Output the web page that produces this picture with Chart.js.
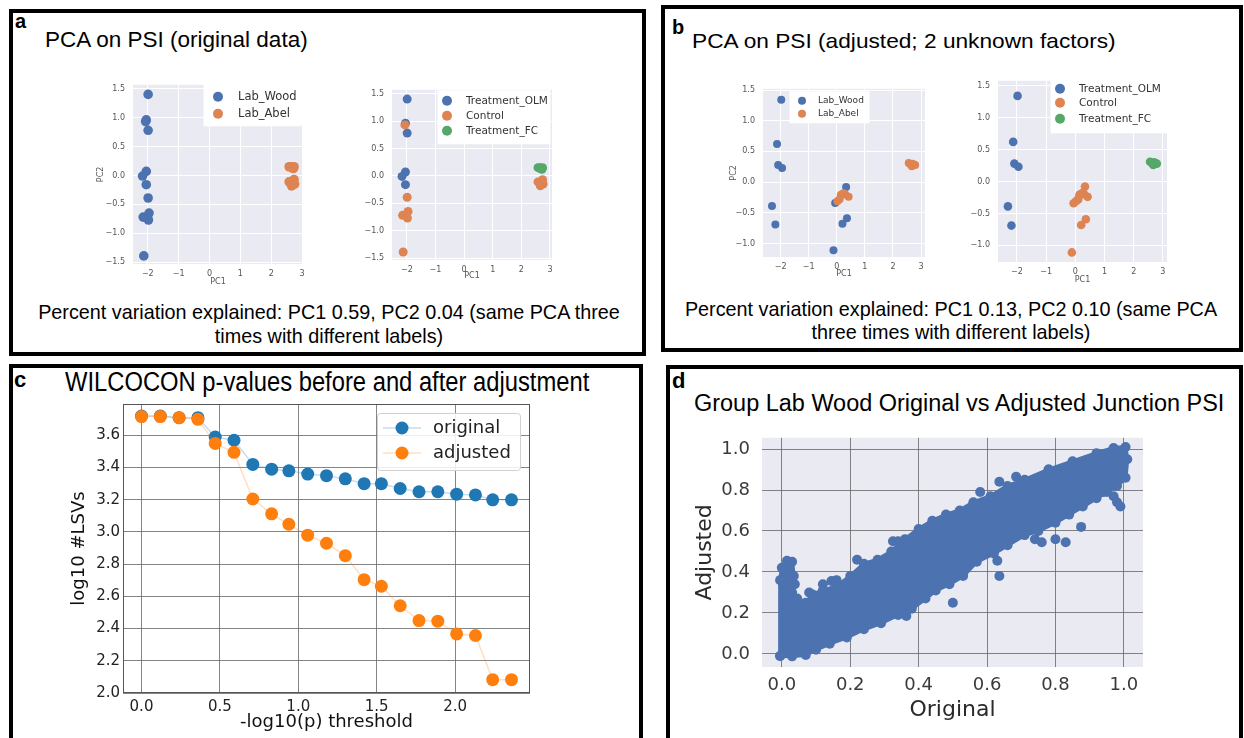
<!DOCTYPE html>
<html>
<head>
<meta charset="utf-8">
<script src="https://cdn.jsdelivr.net/npm/chart.js@4.4.1/dist/chart.umd.min.js"></script>
<style>
body { margin: 0; width: 1244px; height: 738px; background: #fff; position: relative; overflow: hidden;
       font-family: "Liberation Sans", Arial, sans-serif; }
.box { position: absolute; border: 4px solid #000; box-sizing: border-box; }
.t { position: absolute; white-space: nowrap; color: #000; line-height: 1; transform-origin: left top; }
.lbl { font-weight: bold; }
.ctr { transform: translateX(-50%); }
canvas { position: absolute; }
</style>
</head>
<body>
<div class="box" style="left:9px;top:9px;width:637px;height:347px"></div>
<div class="box" style="left:661px;top:5px;width:582px;height:347px"></div>
<div class="box" style="left:9px;top:364px;width:634px;height:420px"></div>
<div class="box" style="left:666px;top:365px;width:577px;height:420px"></div>

<div class="t lbl" style="left:15px;top:11px;font-size:20px">a</div>
<div class="t" style="left:45px;top:29px;font-size:22.5px">PCA on PSI (original data)</div>
<div class="t ctr" style="left:329px;top:303px;font-size:19.8px">Percent variation explained: PC1 0.59, PC2 0.04 (same PCA three</div>
<div class="t ctr" style="left:329px;top:327px;font-size:19.8px">times with different labels)</div>

<div class="t lbl" style="left:672px;top:17px;font-size:20px">b</div>
<div class="t" style="left:692px;top:30px;font-size:21px;transform:scaleX(1.08)">PCA on PSI (adjusted; 2 unknown factors)</div>
<div class="t ctr" style="left:951px;top:300px;font-size:19.8px">Percent variation explained: PC1 0.13, PC2 0.10 (same PCA</div>
<div class="t ctr" style="left:951px;top:323px;font-size:19.8px">three times with different labels)</div>

<div class="t lbl" style="left:14px;top:369px;font-size:22px">c</div>
<div class="t" style="left:65px;top:369px;font-size:27px;transform:scaleX(0.88)">WILCOCON p-values before and after adjustment</div>

<div class="t lbl" style="left:672px;top:370px;font-size:22px">d</div>
<div class="t" style="left:694px;top:392px;font-size:23px;transform:scaleX(1.02)">Group Lab Wood Original vs Adjusted Junction PSI</div>

<canvas id="pcaA1" width="218" height="218" style="left:92px;top:72px"></canvas>
<canvas id="pcaA2" width="200" height="207" style="left:360px;top:77px"></canvas>
<canvas id="pcaB1" width="207" height="206" style="left:725px;top:76px"></canvas>
<canvas id="pcaB2" width="210" height="220" style="left:965px;top:68px"></canvas>
<canvas id="wilcox" width="480" height="346" style="left:60px;top:392px"></canvas>
<canvas id="psi" width="465" height="323" style="left:690px;top:415px"></canvas>

<script>
// ---- PCA tick labels ----
const pcaXTicks = [-2, -1, 0, 1, 2, 3];
const pcaYTicksA = [-1.5, -1.0, -0.5, 0.0, 0.5, 1.0, 1.5];
const pcaYTicksB = [-1.0, -0.5, 0.0, 0.5, 1.0, 1.5];

// ---- PCA on original PSI (samples split by lab / treatment) ----
const origWoodOlmX = [-1.99, -2.05, -1.99, -2.05, -2.17, -2.05];
const origWoodOlmY = [1.40, 0.96, 0.78, 0.07, -0.01, -0.16];
const origWoodCtrlX = [-2.07, -1.99, -1.96, -2.15, -1.98, -2.13];
const origWoodCtrlY = [0.93, -0.39, -0.65, -0.72, -0.77, -1.39];
const origAbelCtrlX = [2.58, 2.66, 2.74, 2.70, 2.76, 2.66];
const origAbelCtrlY = [-0.11, -0.13, -0.07, -0.10, -0.15, -0.18];
const origAbelFcX = [2.58, 2.64, 2.70, 2.74, 2.72, 2.68];
const origAbelFcY = [0.15, 0.15, 0.14, 0.15, 0.12, 0.13];

// ---- PCA on adjusted PSI ----
const adjWoodOlmX = [-1.98, -2.13, -2.09, -1.95, -2.31, -2.19];
const adjWoodOlmY = [1.34, 0.62, 0.28, 0.23, -0.39, -0.69];
const adjWoodCtrlX = [-0.06, 0.33, 0.36, 0.20, -0.12, 0.18];
const adjWoodCtrlY = [-0.34, -0.08, -0.59, -0.68, -1.11, -0.20];
const adjAbelCtrlX = [0.02, 0.10, 0.14, 0.24, 0.30, 0.42];
const adjAbelCtrlY = [-0.31, -0.28, -0.21, -0.18, -0.20, -0.24];
const adjAbelFcX = [2.56, 2.62, 2.67, 2.73, 2.79, 2.70];
const adjAbelFcY = [0.31, 0.29, 0.26, 0.28, 0.28, 0.30];

// ---- WILCOXON thresholds vs log10 #LSVs ----
const thresholds = [0.00, 0.12, 0.24, 0.36, 0.47, 0.59, 0.71, 0.83, 0.94, 1.06, 1.18,
                    1.30, 1.42, 1.53, 1.65, 1.77, 1.89, 2.01, 2.13, 2.24, 2.36];
const lsvOriginal = [3.72, 3.72, 3.71, 3.71, 3.59, 3.57, 3.42, 3.39, 3.38, 3.36, 3.35,
                     3.33, 3.30, 3.30, 3.27, 3.25, 3.25, 3.235, 3.23, 3.20, 3.20];
const lsvAdjusted = [3.717, 3.717, 3.71, 3.70, 3.55, 3.495, 3.205, 3.113, 3.048, 2.98, 2.93,
                     2.853, 2.704, 2.663, 2.542, 2.45, 2.446, 2.367, 2.357, 2.083, 2.083];
const wilcoxXTicks = [0.0, 0.5, 1.0, 1.5, 2.0];
const wilcoxYTicks = [2.0, 2.2, 2.4, 2.6, 2.8, 3.0, 3.2, 3.4, 3.6];

// ---- Junction PSI: outline of the dense point cloud, then stray points ----
const cloudEdgeX = [-0.005, -0.005, 0.0, 0.015, 0.03, 0.035, 0.03, 0.045, 0.07, 0.09, 0.12, 0.16, 0.20,
                    0.24, 0.28, 0.32, 0.36, 0.40, 0.44, 0.48, 0.52, 0.56, 0.61, 0.66, 0.71, 0.78,
                    0.85, 0.92, 0.97, 1.005, 1.01, 1.005, 0.98, 0.95, 0.92, 0.88, 0.84, 0.80, 0.75,
                    0.71, 0.66, 0.62, 0.57, 0.53, 0.49, 0.45, 0.42, 0.38, 0.34, 0.29, 0.24, 0.19,
                    0.14, 0.10, 0.07, 0.03, -0.005];
const cloudEdgeY = [-0.01, 0.36, 0.42, 0.455, 0.45, 0.38, 0.30, 0.27, 0.25, 0.29, 0.31, 0.33, 0.38,
                    0.44, 0.46, 0.50, 0.56, 0.61, 0.65, 0.68, 0.70, 0.74, 0.77, 0.82, 0.85, 0.90,
                    0.94, 0.98, 1.005, 1.01, 0.95, 0.86, 0.82, 0.79, 0.76, 0.72, 0.68, 0.64, 0.60,
                    0.58, 0.53, 0.49, 0.45, 0.38, 0.34, 0.31, 0.27, 0.22, 0.19, 0.15, 0.12, 0.08,
                    0.05, 0.02, -0.005, -0.012, -0.01];
const strayX = [0.50, 0.364, 0.325, 0.34, 0.145, 0.16, 0.038, 0.636, 0.63, 0.875, 0.80, 0.83, 0.74,
                0.76, 0.58, 0.636, 0.685, 0.78, 0.97, 0.98, 0.94, 0.99, 0.22, 0.12, 0.08];
const strayY = [0.25, 0.185, 0.55, 0.55, 0.356, 0.36, 0.34, 0.38, 0.455, 0.62, 0.56, 0.545, 0.56,
                0.545, 0.79, 0.84, 0.865, 0.90, 0.77, 0.74, 0.79, 0.72, 0.46, 0.34, 0.30];
const psiTicks = [0.0, 0.2, 0.4, 0.6, 0.8, 1.0];

const BLUE = '#4c72b0', ORANGE = '#dd8452', GREEN = '#55a868';

Chart.defaults.font.family = '"DejaVu Sans", sans-serif';
Chart.defaults.animation = false;
Chart.defaults.responsive = false;
Chart.defaults.devicePixelRatio = 1;
Chart.defaults.plugins.legend.display = false;
Chart.defaults.plugins.tooltip.enabled = false;

const pts = (xs, ys) => xs.map((x, i) => ({ x: x, y: ys[i] }));
const minus = s => s.replace('-', '\u2212');
const fmt = d => v => minus(Number(v).toFixed(d));

// grey plot background (seaborn style)
const plotBg = {
    id: 'plotBg',
    beforeDraw(chart, args, o) {
        if (!o.color) return;
        const a = chart.chartArea, ctx = chart.ctx;
        ctx.save();
        ctx.fillStyle = o.color;
        ctx.fillRect(a.left, a.top, a.right - a.left, a.bottom - a.top);
        ctx.restore();
    }
};

// full box around the axes
const frame = {
    id: 'frame',
    afterDatasetsDraw(chart, args, o) {
        if (!o.color) return;
        const a = chart.chartArea, ctx = chart.ctx;
        ctx.save();
        ctx.strokeStyle = o.color;
        ctx.lineWidth = 1;
        ctx.strokeRect(a.left + 0.5, a.top + 0.5, a.right - a.left - 1, a.bottom - a.top - 1);
        ctx.restore();
    }
};

// legend drawn inside the plot, like matplotlib; entries are placed relative to the box
const insideLegend = {
    id: 'insideLegend',
    afterDraw(chart, args, o) {
        if (!o.items) return;
        const ctx = chart.ctx, a = chart.chartArea;
        const L = a.left + o.left, T = a.top + o.top;
        ctx.save();
        ctx.beginPath();
        ctx.roundRect(L + 0.5, T + 0.5, o.w, o.h, o.radius || 0);
        ctx.fillStyle = o.bg || '#fff';
        ctx.fill();
        if (o.border) { ctx.strokeStyle = o.border; ctx.lineWidth = 1; ctx.stroke(); }
        ctx.font = o.size + 'px "DejaVu Sans"';
        ctx.textBaseline = 'middle';
        o.items.forEach((it, i) => {
            const cy = T + o.rows[i];
            if (o.line) {
                ctx.strokeStyle = it.lineColor;
                ctx.lineWidth = 1.5;
                ctx.beginPath();
                ctx.moveTo(L + o.lineFrom, cy);
                ctx.lineTo(L + o.lineTo, cy);
                ctx.stroke();
            }
            ctx.fillStyle = it.color;
            ctx.beginPath();
            ctx.arc(L + o.markerX, cy, o.r, 0, Math.PI * 2);
            ctx.fill();
            ctx.fillStyle = o.textColor || '#333';
            ctx.fillText(it.label, L + o.textX, cy);
        });
        ctx.restore();
    }
};

Chart.register(plotBg, frame, insideLegend);

function pcaChart(id, groups, cfg) {
    return new Chart(document.getElementById(id), {
        type: 'scatter',
        data: {
            datasets: groups.map((g, i) => ({
                label: g.label,
                data: g.data,
                backgroundColor: g.color,
                pointRadius: cfg.r,
                pointBorderWidth: 0,
                order: groups.length - i
            }))
        },
        options: {
            layout: { padding: { top: cfg.padTop, right: cfg.padRight, left: 0, bottom: 0 } },
            scales: {
                x: {
                    type: 'linear', min: cfg.xMin, max: cfg.xMax,
                    afterBuildTicks: s => { s.ticks = pcaXTicks.map(v => ({ value: v })); },
                    afterFit: s => { s.height = cfg.xh; },
                    grid: { color: '#fff', lineWidth: 1, drawTicks: false },
                    border: { display: false },
                    ticks: { font: { size: 8 }, color: '#555', padding: 5, maxRotation: 0, autoSkip: false, callback: fmt(0) },
                    title: { display: true, text: 'PC1', font: { size: 8 }, color: '#555', padding: { top: 0, bottom: 3 } }
                },
                y: {
                    type: 'linear', min: cfg.yMin, max: cfg.yMax,
                    afterBuildTicks: s => { s.ticks = cfg.yTicks.map(v => ({ value: v })); },
                    afterFit: s => { s.width = cfg.yw; },
                    grid: { color: '#fff', lineWidth: 1, drawTicks: false },
                    border: { display: false },
                    ticks: { font: { size: 8 }, color: '#555', padding: 8, autoSkip: false, callback: fmt(1) },
                    title: { display: cfg.yTitle, text: 'PC2', font: { size: 8 }, color: '#555', padding: { top: 4, bottom: 0 } }
                }
            },
            plugins: {
                plotBg: { color: '#eaeaf2' },
                insideLegend: Object.assign({ items: groups.map(g => ({ label: g.label, color: g.color })), textColor: '#333' }, cfg.legend)
            }
        }
    });
}

// panel a
pcaChart('pcaA1', [
    { label: 'Lab_Wood', color: BLUE, data: pts(origWoodOlmX.concat(origWoodCtrlX), origWoodOlmY.concat(origWoodCtrlY)) },
    { label: 'Lab_Abel', color: ORANGE, data: pts(origAbelCtrlX.concat(origAbelFcX), origAbelCtrlY.concat(origAbelFcY)) }
], { r: 4.8, xMin: -2.48, xMax: 3.03, yMin: -1.53, yMax: 1.566, yTicks: pcaYTicksA, yw: 41, xh: 26, padTop: 6, padRight: 7, yTitle: true,
     legend: { left: 70, top: -3, w: 100, h: 44, rows: [15, 32], markerX: 15, textX: 35, r: 5, size: 11.5 } });

pcaChart('pcaA2', [
    { label: 'Treatment_OLM', color: BLUE, data: pts(origWoodOlmX, origWoodOlmY) },
    { label: 'Control', color: ORANGE, data: pts(origWoodCtrlX.concat(origAbelCtrlX), origWoodCtrlY.concat(origAbelCtrlY)) },
    { label: 'Treatment_FC', color: GREEN, data: pts(origAbelFcX, origAbelFcY) }
], { r: 4.5, xMin: -2.52, xMax: 3.07, yMin: -1.535, yMax: 1.57, yTicks: pcaYTicksA, yw: 32, xh: 24, padTop: 6, padRight: 8, yTitle: false,
     legend: { left: 45, top: 0, w: 113, h: 54, rows: [11, 26, 41], markerX: 10, textX: 29, r: 5, size: 10.5 } });

// panel b
pcaChart('pcaB1', [
    { label: 'Lab_Wood', color: BLUE, data: pts(adjWoodOlmX.concat(adjWoodCtrlX), adjWoodOlmY.concat(adjWoodCtrlY)) },
    { label: 'Lab_Abel', color: ORANGE, data: pts(adjAbelCtrlX.concat(adjAbelFcX), adjAbelCtrlY.concat(adjAbelFcY)) }
], { r: 4, xMin: -2.63, xMax: 3.14, yMin: -1.22, yMax: 1.52, yTicks: pcaYTicksB, yw: 38, xh: 25, padTop: 6, padRight: 7, yTitle: true,
     legend: { left: 26, top: 2, w: 80, h: 32, rows: [10, 23], markerX: 13, textX: 29, r: 4, size: 9 } });

pcaChart('pcaB2', [
    { label: 'Treatment_OLM', color: BLUE, data: pts(adjWoodOlmX, adjWoodOlmY) },
    { label: 'Control', color: ORANGE, data: pts(adjWoodCtrlX.concat(adjAbelCtrlX), adjWoodCtrlY.concat(adjAbelCtrlY)) },
    { label: 'Treatment_FC', color: GREEN, data: pts(adjAbelFcX, adjAbelFcY) }
], { r: 4.3, xMin: -2.65, xMax: 3.14, yMin: -1.26, yMax: 1.576, yTicks: pcaYTicksB, yw: 33, xh: 26, padTop: 7, padRight: 8, yTitle: false,
     legend: { left: 52, top: -5, w: 117, h: 57, rows: [13, 27, 43], markerX: 10, textX: 29, r: 5, size: 10.5 } });

// panel c
new Chart(document.getElementById('wilcox'), {
    type: 'scatter',
    data: {
        datasets: [{
            label: 'original', data: pts(thresholds, lsvOriginal), showLine: true,
            borderColor: 'rgba(31,119,180,0.25)', borderWidth: 1.5,
            pointRadius: 6.5, pointBackgroundColor: '#1f77b4', pointBorderWidth: 0, order: 2
        }, {
            label: 'adjusted', data: pts(thresholds, lsvAdjusted), showLine: true,
            borderColor: 'rgba(255,127,14,0.25)', borderWidth: 1.5,
            pointRadius: 6.5, pointBackgroundColor: '#ff7f0e', pointBorderWidth: 0, order: 1
        }]
    },
    options: {
        layout: { padding: { top: 6, right: 10, left: 0, bottom: 0 } },
        scales: {
            x: {
                type: 'linear', min: -0.118, max: 2.478,
                afterBuildTicks: s => { s.ticks = wilcoxXTicks.map(v => ({ value: v })); },
                afterFit: s => { s.height = 45; },
                grid: { color: '#666', lineWidth: 0.8, borderDash: [1.5, 1.5], drawTicks: false },
                border: { display: false },
                ticks: { font: { size: 15 }, color: '#222', padding: 5, maxRotation: 0, autoSkip: false, callback: fmt(1) },
                title: { display: true, text: '-log10(p) threshold', font: { size: 18 }, color: '#111', padding: { top: 0, bottom: 5 } }
            },
            y: {
                type: 'linear', min: 2.0, max: 3.795,
                afterBuildTicks: s => { s.ticks = wilcoxYTicks.map(v => ({ value: v })); },
                afterFit: s => { s.width = 63; },
                grid: { color: '#666', lineWidth: 0.8, borderDash: [1.5, 1.5], drawTicks: false },
                border: { display: false },
                ticks: { font: { size: 15 }, color: '#222', padding: 3, autoSkip: false, callback: fmt(1) },
                title: { display: true, text: 'log10 #LSVs', font: { size: 18 }, color: '#111', padding: { top: 9, bottom: 0 } }
            }
        },
        plugins: {
            frame: { color: '#555' },
            insideLegend: {
                items: [
                    { label: 'original', color: '#1f77b4', lineColor: 'rgba(31,119,180,0.25)' },
                    { label: 'adjusted', color: '#ff7f0e', lineColor: 'rgba(255,127,14,0.25)' }
                ],
                left: 254, top: 9, w: 143, h: 57, rows: [15, 40], line: true, lineFrom: 6, lineTo: 44,
                markerX: 25, textX: 56, r: 6.5, size: 18, textColor: '#222', border: '#d0d0d0', radius: 3, bg: 'rgba(255,255,255,0.85)'
            }
        }
    }
});

// panel d
new Chart(document.getElementById('psi'), {
    type: 'scatter',
    data: {
        datasets: [{
            label: 'cloud', data: pts(cloudEdgeX, cloudEdgeY), showLine: true, fill: 'shape',
            backgroundColor: BLUE, borderColor: BLUE, borderWidth: 4, tension: 0,
            pointRadius: 5, pointBackgroundColor: BLUE, pointBorderWidth: 0
        }, {
            label: 'stray', data: pts(strayX, strayY),
            pointRadius: 5, pointBackgroundColor: BLUE, pointBorderWidth: 0
        }]
    },
    options: {
        layout: { padding: { top: 6, right: 12, left: 0, bottom: 0 } },
        scales: {
            x: {
                type: 'linear', min: -0.058, max: 1.056,
                afterBuildTicks: s => { s.ticks = psiTicks.map(v => ({ value: v })); },
                afterFit: s => { s.height = 71; },
                grid: { color: '#666', lineWidth: 0.8, borderDash: [2, 2], drawTicks: false },
                border: { display: false },
                ticks: { font: { size: 18 }, color: '#3a3a3a', padding: 8, maxRotation: 0, autoSkip: false, callback: fmt(1) },
                title: { display: true, text: 'Original', font: { size: 22 }, color: '#2a2a2a', padding: { top: 0, bottom: 15 } }
            },
            y: {
                type: 'linear', min: -0.064, max: 1.055,
                afterBuildTicks: s => { s.ticks = psiTicks.map(v => ({ value: v })); },
                afterFit: s => { s.width = 72; },
                grid: { color: '#666', lineWidth: 0.8, borderDash: [2, 2], drawTicks: false },
                border: { display: false },
                ticks: { font: { size: 18 }, color: '#3a3a3a', padding: 12, autoSkip: false, callback: fmt(1) },
                title: { display: true, text: 'Adjusted', font: { size: 22 }, color: '#2a2a2a', padding: { top: 2, bottom: 0 } }
            }
        },
        plugins: {
            plotBg: { color: '#eaeaf2' }
        }
    }
});
</script>
</body>
</html>
